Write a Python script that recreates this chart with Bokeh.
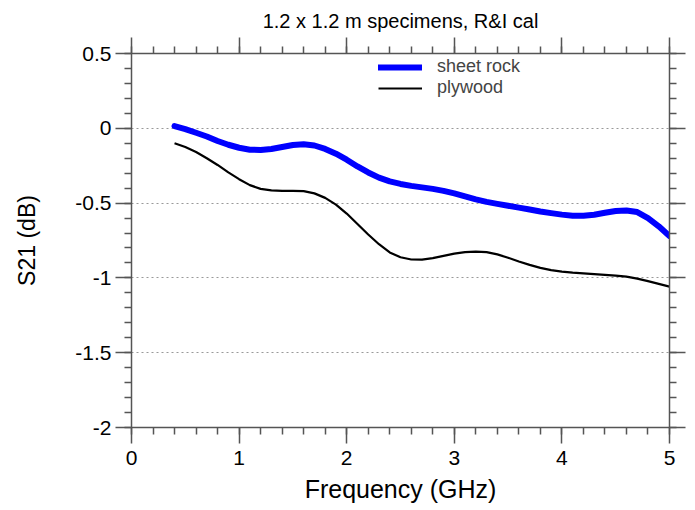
from bokeh.plotting import figure
from bokeh.models import (LinearAxis, Range1d, FixedTicker, Legend, LegendItem)
from bokeh.embed import file_html
from bokeh.resources import INLINE

# ---- data ----
freq = [0.4, 0.5, 0.6, 0.7, 0.8, 0.9, 1.0, 1.1, 1.2, 1.3, 1.4, 1.5, 1.6, 1.7, 1.8,
        1.9, 2.0, 2.1, 2.2, 2.3, 2.4, 2.5, 2.6, 2.7, 2.8, 2.9, 3.0, 3.1, 3.2, 3.3,
        3.4, 3.5, 3.6, 3.7, 3.8, 3.9, 4.0, 4.1, 4.2, 4.3, 4.4, 4.5, 4.6, 4.7, 4.8,
        4.9, 5.0]
sheet_rock = [0.015, -0.005, -0.03, -0.055, -0.085, -0.11, -0.13, -0.143, -0.145,
              -0.138, -0.125, -0.112, -0.107, -0.115, -0.138, -0.17, -0.21, -0.255,
              -0.295, -0.33, -0.355, -0.372, -0.385, -0.395, -0.405, -0.418, -0.435,
              -0.455, -0.475, -0.492, -0.505, -0.518, -0.53, -0.543, -0.556, -0.567,
              -0.577, -0.584, -0.585, -0.578, -0.565, -0.553, -0.549, -0.56, -0.6,
              -0.655, -0.72]
plywood = [-0.1, -0.125, -0.158, -0.2, -0.245, -0.295, -0.34, -0.38, -0.405, -0.415,
           -0.418, -0.418, -0.42, -0.435, -0.465, -0.51, -0.57, -0.64, -0.71, -0.775,
           -0.83, -0.862, -0.877, -0.878, -0.868, -0.853, -0.838, -0.828, -0.824,
           -0.828, -0.843, -0.865, -0.89, -0.913, -0.933, -0.948, -0.958, -0.965,
           -0.97, -0.975, -0.98, -0.985, -0.992, -1.005, -1.022, -1.04, -1.058]

series_names = ["sheet rock", "plywood"]
title_text = "1.2 x 1.2 m specimens, R&I cal"
x_label = "Frequency (GHz)"
y_label = "S21 (dB)"

x_ticks = [0, 1, 2, 3, 4, 5]
x_minor = [i / 5 for i in range(0, 26)]
y_ticks = [0.5, 0, -0.5, -1, -1.5, -2]
y_minor = [-2 + i / 10 for i in range(0, 26)]
y_tick_labels = {0.5: "0.5", 0: "0", -0.5: "-0.5", -1: "-1", -1.5: "-1.5", -2: "-2"}
grid_levels = [0, -0.5, -1, -1.5]

FONT = "Liberation Sans"
AXCOL = "#555555"

p = figure(width=695, height=510, x_range=Range1d(0, 5), y_range=Range1d(-2, 0.5),
           output_backend="svg", toolbar_location=None,
           min_border_left=131, min_border_right=26, min_border_top=53,
           min_border_bottom=83, x_axis_location=None, y_axis_location=None)
p.outline_line_color = None
p.background_fill_color = "white"
p.border_fill_color = "white"


def style_axis(ax, ticks, minor, labels=True):
    ax.ticker = FixedTicker(ticks=ticks, minor_ticks=minor)
    ax.axis_line_color = AXCOL
    ax.axis_line_width = 1.5
    ax.major_tick_line_color = AXCOL
    ax.major_tick_line_width = 1.5
    ax.minor_tick_line_color = AXCOL
    ax.minor_tick_line_width = 1.5
    ax.major_tick_in = 0
    ax.major_tick_out = 16
    ax.minor_tick_in = 0
    ax.minor_tick_out = 7
    ax.major_label_text_font = FONT
    ax.major_label_text_color = "black"
    ax.axis_label_text_font = FONT
    ax.axis_label_text_font_style = "normal"
    ax.axis_label_text_color = "black"
    if not labels:
        ax.major_label_overrides = {t: "" for t in ticks}
        ax.major_label_text_font_size = "1px"
        ax.major_label_standoff = 0


bottom = LinearAxis(axis_label=x_label)
style_axis(bottom, x_ticks, x_minor)
bottom.major_label_text_font_size = "21px"
bottom.major_label_standoff = 7
bottom.axis_label_text_font_size = "25px"
bottom.axis_label_standoff = 7
p.add_layout(bottom, "below")

left = LinearAxis(axis_label=y_label)
style_axis(left, y_ticks, y_minor)
left.major_label_overrides = y_tick_labels
left.major_label_text_font_size = "21px"
left.major_label_standoff = 4
left.axis_label_text_font_size = "23px"
left.axis_label_standoff = 32
p.add_layout(left, "left")

top = LinearAxis()
style_axis(top, x_ticks, x_minor, labels=False)
p.add_layout(top, "above")

right = LinearAxis()
style_axis(right, y_ticks, y_minor, labels=False)
p.add_layout(right, "right")

p.xgrid.visible = False
p.ygrid.ticker = FixedTicker(ticks=grid_levels)
p.ygrid.grid_line_color = "#999999"
p.ygrid.grid_line_dash = "2 3"
p.ygrid.grid_line_width = 1

p.title.text = title_text
p.title.align = "center"
p.title.text_font = FONT
p.title.text_font_size = "20px"
p.title.text_font_style = "normal"
p.title.text_color = "black"
p.title.standoff = 12

r1 = p.line(freq, sheet_rock, line_color="#0000ff", line_width=6, line_cap="round", line_join="round")
r2 = p.line(freq, plywood, line_color="black", line_width=2.2, line_join="round")

legend = Legend(items=[LegendItem(label=series_names[0], renderers=[r1]),
                       LegendItem(label=series_names[1], renderers=[r2])],
                location=(247, 329))
legend.border_line_color = None
legend.background_fill_alpha = 0
legend.glyph_width = 44
legend.glyph_height = 20
legend.label_height = 20
legend.spacing = 0
legend.padding = 0
legend.margin = 0
legend.label_standoff = 15
legend.label_text_font = FONT
legend.label_text_font_size = "18px"
p.add_layout(legend, "center")

open("out.html", "w").write(file_html(p, INLINE))
